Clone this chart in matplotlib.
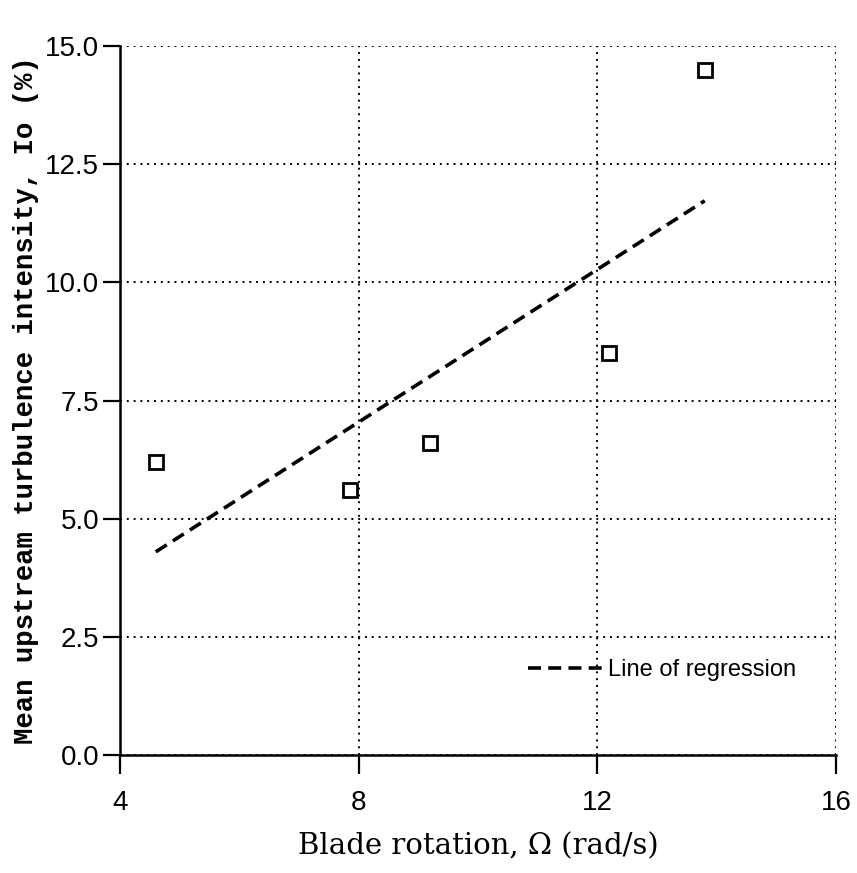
import numpy as np
import matplotlib.pyplot as plt

# Measured points (blade rotation rad/s, turbulence intensity %)
omega = [4.6, 7.85, 9.2, 12.2, 13.8]
intensity = [6.2, 5.6, 6.6, 8.5, 14.5]

xticks = [4, 8, 12, 16]
yticks = [0.0, 2.5, 5.0, 7.5, 10.0, 12.5, 15.0]

# Least squares line through the points
slope, intercept = np.polyfit(omega, intensity, 1)
x_fit = np.array([min(omega), max(omega)])
y_fit = slope * x_fit + intercept

fig = plt.figure(figsize=(8.57, 8.73), dpi=100)
ax = fig.add_axes([0.140, 0.135, 0.8355, 0.8123])

ax.plot(omega, intensity, linestyle='none', marker='s', markersize=10,
        markerfacecolor='white', markeredgecolor='black', markeredgewidth=2,
        zorder=3)
ax.plot(x_fit, y_fit, color='black', linewidth=2.6, dashes=(3.6, 2),
        label='Line of regression', zorder=3)

ax.set_xlim(4, 16)
ax.set_ylim(0, 15)
ax.set_xticks(xticks)
ax.set_yticks(yticks)
ax.set_xticklabels([str(t) for t in xticks], family='Liberation Sans', fontsize=20)
ax.set_yticklabels(['{0:.1f}'.format(t) for t in yticks], family='Liberation Sans', fontsize=20)

ax.grid(True, linestyle=(0, (1, 2.5)), color='black', linewidth=1.4)
for side in ['top', 'right']:
    ax.spines[side].set_visible(False)
for side in ['left', 'bottom']:
    ax.spines[side].set_linewidth(1.8)

ax.tick_params(axis='x', direction='out', length=14, width=1.6, pad=11)
ax.tick_params(axis='y', direction='out', length=12, width=1.6, pad=3)

ax.set_xlabel('Blade rotation, \u03a9 (rad/s)', family='DejaVu Serif',
              fontsize=21, labelpad=12)
ax.set_ylabel('Mean upstream turbulence intensity, Io (%)', family='Liberation Mono',
              fontsize=19.7, fontweight='bold', labelpad=4)

ax.legend(loc='center right', bbox_to_anchor=(0.945, 0.12), frameon=False,
          prop={'family': 'Liberation Sans', 'size': 17}, handlelength=3.2,
          handletextpad=0.2, borderpad=0, borderaxespad=0)

fig.savefig('out.png', dpi=100)
